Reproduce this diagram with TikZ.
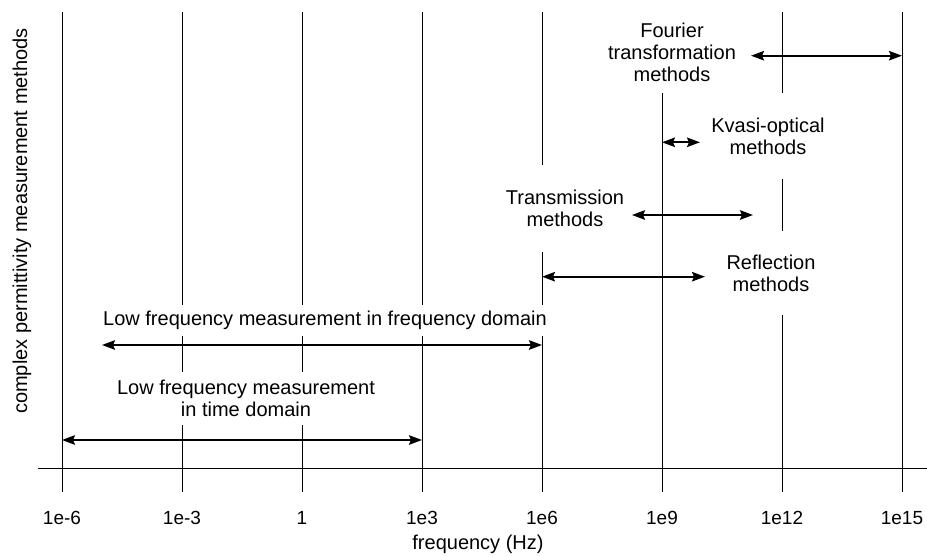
\documentclass[tikz,border=0pt]{standalone}
\usepackage{fontspec}
\setmainfont{Liberation Sans}
\usepackage{tikz}
\usetikzlibrary{positioning}
\usetikzlibrary{arrows.meta}

\tikzset{
	decline/.style={line width=0.8pt},
	span/.style={<->, >={Stealth[length=13pt,width=9.5pt,inset=2pt]}, line width=1.8pt},
	lbl/.style={fill=white, align=center, inner xsep=2pt, font=\fontsize{20}{22}\selectfont},
	ticklbl/.style={font=\fontsize{19}{22}\selectfont}
}

\begin{document}
\begin{tikzpicture}[x=40pt,y=-1pt]
				\newcommand{\ytop}{12}
				\newcommand{\ybot}{492}
				\newcommand{\yax}{468}
				\useasboundingbox (-7.55,0) rectangle (15.625,557);
				
				% one line per three decades
				\foreach \e/\t [count=\i] in {-6/1e-6,-3/1e-3,0/1,3/1e3,6/1e6,9/1e9,12/1e12,15/1e15} {
					\draw[decline] (\e,\ytop) -- (\e,\ybot);
					\node[ticklbl] (t\i) at (\e,518) {\t};
				}
				\draw[decline] (-6.6,\yax) -- (15.625,\yax);
				
				\node[ticklbl,font=\fontsize{20}{22}\selectfont] (xlab) at (4.4,544) {frequency (Hz)};
				\node[rotate=90,font=\fontsize{20}{22}\selectfont] (ylab) at (-7.0,221) {complex permittivity measurement methods};
				
				\node[lbl,inner ysep=12pt] (fourier) at (9.25,52) {Fourier\\transformation\\methods};
				\node[lbl,inner ysep=25pt] (kvasi) at (11.65,136) {Kvasi-optical\\methods};
				\node[lbl,inner ysep=25pt] (trans) at (6.575,208.7) {Transmission\\methods};
				\node[lbl,inner ysep=24pt] (refl) at (11.725,273) {Reflection\\methods};
				\node[lbl,inner ysep=6pt] (lffreq) at (0.575,320.3) {Low frequency measurement in frequency domain};
				\node[lbl,inner ysep=8pt] (lftime) at (-1.4,398.4) {Low frequency measurement\\in time domain};
				
				\coordinate (fourierL) at (11.225,55.7);
				\coordinate (fourierR) at (15,55.7);
				\coordinate (kvasiL) at (9,142.3);
				\coordinate (kvasiR) at (9.95,142.3);
				\coordinate (transL) at (8.25,215);
				\coordinate (transR) at (11.275,215);
				\coordinate (reflL) at (6,276.7);
				\coordinate (reflR) at (10.075,276.7);
				\coordinate (lffreqL) at (-5,345);
				\coordinate (lffreqR) at (6,345);
				\coordinate (lftimeL) at (-6,440);
				\coordinate (lftimeR) at (3,440);
				
				\draw[span] (fourierL) to (fourierR);
				\draw[span] (kvasiL) to (kvasiR);
				\draw[span] (transL) to (transR);
				\draw[span] (reflL) to (reflR);
				\draw[span] (lffreqL) to (lffreqR);
				\draw[span] (lftimeL) to (lftimeR);
				
				
\end{tikzpicture}
\end{document}
